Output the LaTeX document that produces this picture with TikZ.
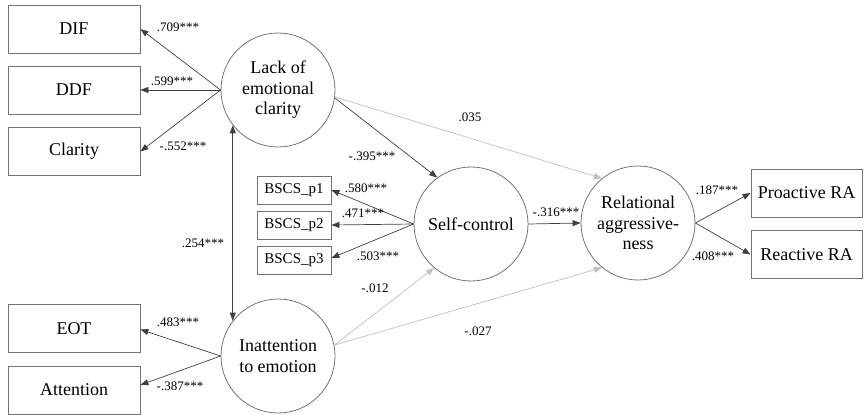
\documentclass[tikz,border=0pt]{standalone}
\usepackage{fontspec}
\setmainfont{Liberation Serif}
\usetikzlibrary{arrows.meta,calc}
\tikzset{
  box/.style={draw=black!55, line width=0.8pt, minimum width=132pt, minimum height=48pt, inner sep=0pt, font=\fontsize{18}{21}\selectfont},
  sbox/.style={draw=black!55, line width=0.8pt, minimum width=74pt, minimum height=28pt, inner sep=0pt, font=\fontsize{15}{18}\selectfont},
  rbox/.style={box, minimum width=111pt},
  lat/.style={circle, draw=black!55, line width=0.8pt, minimum size=114pt, inner sep=0pt, align=center, font=\fontsize{18}{20.5}\selectfont},
  arr/.style={draw=black!75, line width=0.7pt, -{Triangle[length=8pt,width=6pt]}},
  darr/.style={draw=black!75, line width=0.7pt, {Triangle[length=8pt,width=6pt]}-{Triangle[length=8pt,width=6pt]}},
  garr/.style={arr, draw=black!25},
  lab/.style={font=\fontsize{13}{15}\selectfont, inner sep=0pt}
}
\begin{document}
\begin{tikzpicture}[x=1pt,y=-1pt]
\useasboundingbox (0,0) rectangle (868,415);
% boxes
\node[box] (dif) at (74,29) {DIF};
\node[box] (ddf) at (74,90) {DDF};
\node[box] (cla) at (74,151.5) {Clarity};
\node[box] (eot) at (74,328.5) {EOT};
\node[box] (att) at (74,390) {Attention};
\node[sbox] (p1) at (294,190) {BSCS\_p1};
\node[sbox] (p2) at (294,225) {BSCS\_p2};
\node[sbox] (p3) at (294,260) {BSCS\_p3};
\node[rbox] (pro) at (806.5,193) {Proactive RA};
\node[rbox] (rea) at (806.5,254.5) {Reactive RA};
% latent
\node[lat] (lack) at (278,90) {Lack of\\emotional\\clarity};
\node[lat] (ina) at (278,356) {Inattention\\to emotion};
\node[lat] (sc) at (471,224) {Self-control};
\node[lat] (rel) at (638,223) {Relational\\aggressive-\\ness};
% loadings
\draw[arr] (lack.west) -- (dif.east);
\draw[arr] (lack.west) -- (ddf.east);
\draw[arr] (lack.west) -- (cla.east);
\draw[arr] (ina.west) -- ($(eot.east)+(0,1)$);
\draw[arr] (ina.west) -- ($(att.east)+(0,-5)$);
\draw[arr] (sc.west) -- (p1.east);
\draw[arr] (sc.west) -- (p2.east);
\draw[arr] (sc.west) -- ($(p3.east)+(0,-2)$);
\draw[arr] (rel.east) -- (pro.west);
\draw[arr] (rel.east) -- (rea.west);
% structural
\draw[darr] (lack.218) -- (ina.142);
\draw[arr] (lack.-8) -- (sc.126);
\draw[garr] (lack.-7) -- (rel.129);
\draw[garr] (ina.11) -- (sc.230);
\draw[garr] (ina.11) -- (rel.231);
\draw[arr] (sc.east) -- (rel.west);
% labels
\node[lab] (l1) at (178,27) {.709***};
\node[lab] (l2) at (172,81) {.599***};
\node[lab] (l3) at (183,146) {-.552***};
\node[lab] (l4) at (178,322) {.483***};
\node[lab] (l5) at (180,386) {-.387***};
\node[lab] (l6) at (203,243) {.254***};
\node[lab] (l7) at (366,188) {.580***};
\node[lab] (l8) at (363,213) {.471***};
\node[lab] (l9) at (378,256) {.503***};
\node[lab] (l10) at (372,156) {-.395***};
\node[lab] (l11) at (470,117) {.035};
\node[lab] (l12) at (375,288) {-.012};
\node[lab] (l13) at (478,331) {-.027};
\node[lab] (l14) at (556,212) {-.316***};
\node[lab] (l15) at (717,190) {.187***};
\node[lab] (l16) at (713,256) {.408***};
\end{tikzpicture}
\end{document}
